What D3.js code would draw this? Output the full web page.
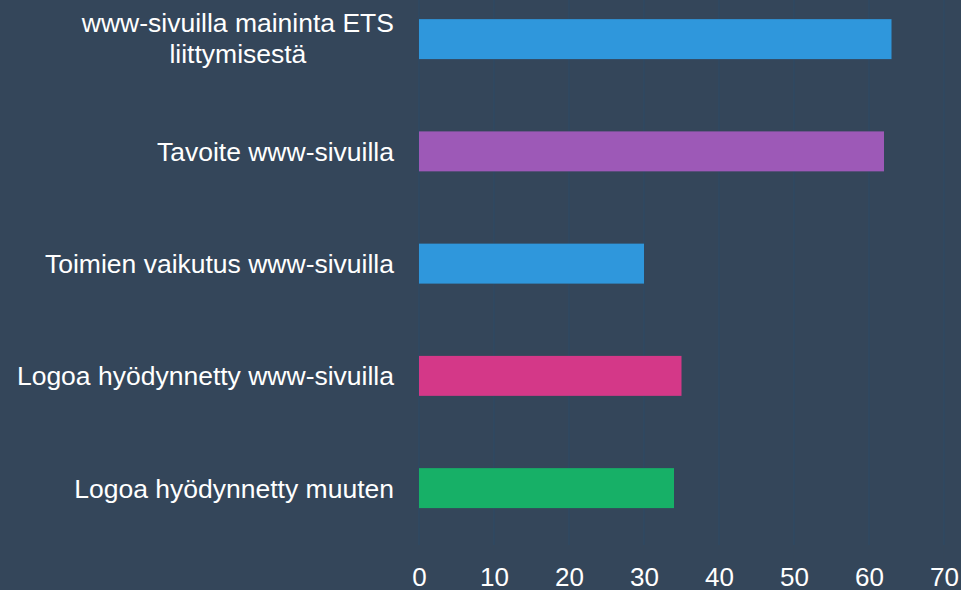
<!DOCTYPE html>
<html>
<head>
<meta charset="utf-8">
<script src="https://cdn.jsdelivr.net/npm/d3@7"></script>
<style>
  html, body { margin: 0; padding: 0; background: #34465a; }
  svg { display: block; }
</style>
</head>
<body>
<svg id="chart" width="961" height="590"></svg>
<script>
// Category labels (a line break splits the first label in two)
const categories = [
  "www-sivuilla maininta ETS\nliittymisestä",
  "Tavoite www-sivuilla",
  "Toimien vaikutus www-sivuilla",
  "Logoa hyödynnetty www-sivuilla",
  "Logoa hyödynnetty muuten"
];
const values = [63, 62, 30, 35, 34];
const barColors = ["#2f97dc", "#9d59b7", "#2f97dc", "#d43888", "#17b067"];
const xTicks = [0, 10, 20, 30, 40, 50, 60, 70];

const width = 961, height = 590;
const plot = { left: 419, right: 944, top: 0, bottom: 545 };
const fontFamily = "'Liberation Sans', Arial, sans-serif";
const svg = d3.select("#chart");

svg.append("rect").attr("width", width).attr("height", height).attr("fill", "#34465a");

const x = d3.scaleLinear().domain([0, 70]).range([plot.left, plot.right]);
const y = d3.scaleBand()
  .domain(categories)
  .range([-17, 544.25])
  .paddingInner(0.644)
  .paddingOuter(0.322);

// vertical grid lines
svg.append("g")
  .selectAll("line")
  .data(xTicks)
  .join("line")
  .attr("x1", d => x(d)).attr("x2", d => x(d))
  .attr("y1", plot.top).attr("y2", plot.bottom)
  .attr("stroke", "#2e4a64")
  .attr("stroke-width", 1.3);

// bars
svg.append("g")
  .selectAll("rect")
  .data(categories)
  .join("rect")
  .attr("x", x(0))
  .attr("y", d => y(d))
  .attr("width", (d, i) => x(values[i]) - x(0))
  .attr("height", y.bandwidth())
  .attr("fill", (d, i) => barColors[i]);

// x axis tick labels
const xAxis = d3.axisBottom(x).tickValues(xTicks).tickSize(0).tickPadding(0);
const gx = svg.append("g").attr("transform", `translate(0,${plot.bottom})`).call(xAxis);
gx.attr("font-family", null).attr("font-size", null);
gx.select(".domain").remove();
gx.selectAll("text")
  .attr("y", 41)
  .attr("dy", null)
  .attr("fill", "#ffffff")
  .style("font-family", fontFamily)
  .style("font-size", "26px");

// category labels, multi-line ones centred on their widest line
const labelRight = 394;
const lineHeight = 30.5;
const labels = svg.append("g")
  .style("font-family", fontFamily)
  .style("font-size", "26.5px")
  .attr("fill", "#ffffff");

categories.forEach(cat => {
  const lines = cat.split("\n");
  const cy = y(cat) + y.bandwidth() / 2;
  const t = labels.append("text");
  const shift = lines.length > 1 ? 8.5 : 9.5;
  lines.forEach((ln, j) => {
    t.append("tspan").text(ln)
      .attr("y", cy + shift + (j - (lines.length - 1) / 2) * lineHeight);
  });
  if (lines.length === 1) {
    t.attr("text-anchor", "end").selectAll("tspan").attr("x", labelRight);
  } else {
    const widths = [];
    t.selectAll("tspan").each(function () { widths.push(this.getComputedTextLength()); });
    const maxW = d3.max(widths);
    t.attr("text-anchor", "middle").selectAll("tspan").attr("x", labelRight - maxW / 2);
  }
});
</script>
</body>
</html>
